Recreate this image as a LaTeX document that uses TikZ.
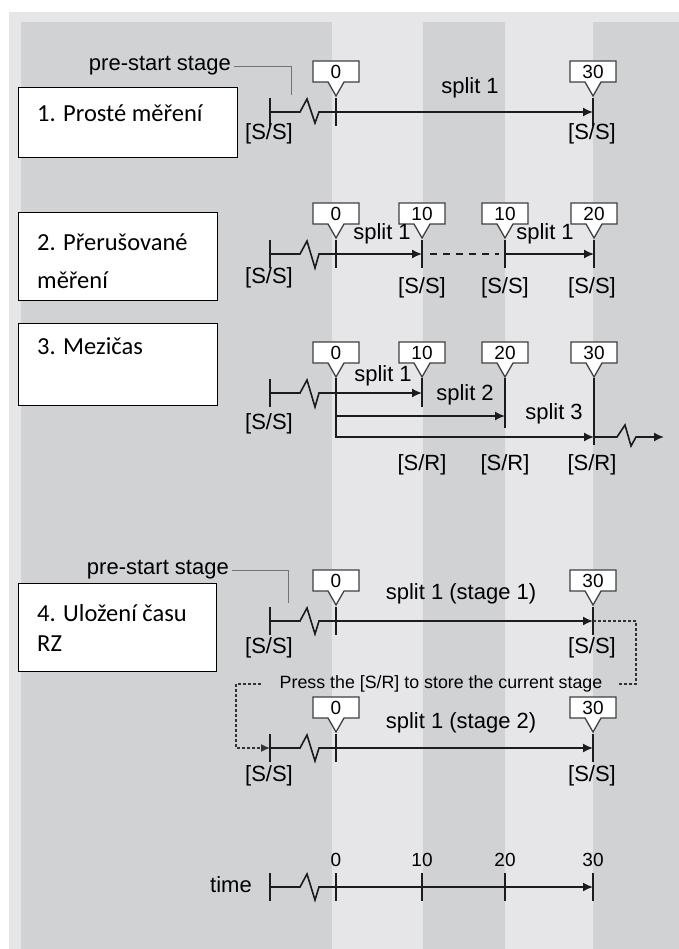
\documentclass[tikz,border=0pt]{standalone}
\usepackage{fontspec}
\setmainfont{Liberation Sans}
\newfontfamily\boxfont{Carlito}
\usetikzlibrary{arrows.meta,positioning}

\definecolor{bandlight}{RGB}{230,230,232}
\definecolor{banddark}{RGB}{209,210,212}
\definecolor{ink}{RGB}{28,28,28}

\tikzset{
  axis/.style={ink,line width=1.6pt},
  arr/.style={axis,-{Latex[length=10pt,width=9pt]}},
  tick/.style={ink,line width=2.8pt},
  flag/.style={draw=black!75,fill=white,line width=1.3pt,line join=miter},
  flagnum/.style={font=\fontsize{19}{19}\selectfont,inner sep=0pt},
  lbl/.style={font=\fontsize{22}{22}\selectfont,inner sep=0pt},
  presslbl/.style={font=\fontsize{17.8}{17.8}\selectfont,inner sep=0pt},
  stagebox/.style={draw=black,line width=1.4pt,fill=white,inner sep=0pt},
  boxtext/.style={font=\boxfont\fontsize{24.5}{24.5}\selectfont,anchor=west,inner sep=0pt},
  lead/.style={black!55,line width=0.8pt},
  store/.style={black!80,line width=1.3pt,dash pattern=on 3pt off 2pt}
}

% flag above a tick: name, x, line y, text
\newcommand{\flagat}[4]{%
  \draw[flag] (#2-23,#3-51) -- (#2+23,#3-51) -- (#2+23,#3-30) -- (#2+8,#3-30)
    -- (#2,#3-16) -- (#2-8,#3-30) -- (#2-23,#3-30) -- cycle;
  \node[flagnum] (#1) at (#2,#3-40.5) {#4};}

\begin{document}
\begin{tikzpicture}[x=1pt,y=-1pt]
    \useasboundingbox (0,0) rectangle (679,949);
    \fill[white] (0,0) rectangle (679,949);
    \fill[bandlight] (9,12) rectangle (679,949);
    \foreach \xa/\xb in {21/332, 423/505, 593/679} {
        \fill[banddark] (\xa,22) rectangle (\xb,949);
    }

    % 1. simple
    \node[stagebox,anchor=north west,minimum width=219pt,minimum height=70pt] (box1) at (18,87) {};
    \node[boxtext] (box1t) at (37,113) {1. Prosté měření};
    \coordinate (s1) at (270,112);
    \coordinate (z1) at (336,112);
    \coordinate (e1) at (593,112);
    \foreach \x in {270,336,593} {
        \draw[tick] (\x,98) -- (\x,126);
    }
    \draw[axis] (s1) -- (300,112) -- (307,99) -- (315,123) -- (319,112) -- (z1);
    \draw[arr] (z1) -- (e1);
    \flagat{f1a}{336}{112}{0}
    \flagat{f1b}{593}{112}{30}
    \node[lbl] (sp1) at (470,88) {split 1};
    \node[lbl] (ss1a) at (269,134) {[S/S]};
    \node[lbl] (ss1b) at (592,134) {[S/S]};
    \node[lbl,anchor=east] (pre1) at (231,66) {pre-start stage};
    \coordinate (pre1p) at (291,95);
    \draw[lead,shorten <=3pt] (pre1.east) -| (pre1p);

    % 2. interrupted
    \node[stagebox,anchor=north west,minimum width=199pt,minimum height=88pt] (box2) at (18,212) {};
    \node[boxtext] (box2t) at (37,242) {2. Přerušované};
    \node[boxtext] (box2u) at (37,280) {měření};
    \coordinate (s2) at (270,254);
    \coordinate (z2) at (336,254);
    \coordinate (a2) at (422,254);
    \coordinate (b2) at (505,254);
    \coordinate (c2) at (594,254);
    \foreach \x in {270,336,422,505,594} {
        \draw[tick] (\x,240) -- (\x,268);
    }
    \draw[axis] (s2) -- (300,254) -- (307,241) -- (315,268) -- (319,254) -- (z2);
    \draw[arr] (z2) -- (a2);
    \draw[axis,line width=1.2pt,dash pattern=on 7pt off 6pt,shorten <=8pt,shorten >=6pt] (a2) -- (b2);
    \draw[arr] (b2) -- (c2);
    \flagat{f2a}{336}{254}{0}
    \flagat{f2b}{422}{254}{10}
    \flagat{f2c}{505}{254}{10}
    \flagat{f2d}{594}{254}{20}
    \node[lbl] (sp2a) at (382,234) {split 1};
    \node[lbl] (sp2b) at (545,234) {split 1};
    \node[lbl] (ss2a) at (269,278) {[S/S]};
    \node[lbl] (ss2b) at (422,288) {[S/S]};
    \node[lbl] (ss2c) at (505,288) {[S/S]};
    \node[lbl] (ss2d) at (592,288) {[S/S]};

    % 3. splits
    \node[stagebox,anchor=north west,minimum width=199pt,minimum height=82pt] (box3) at (18,323) {};
    \node[boxtext] (box3t) at (37,346) {3. Mezičas};
    \coordinate (s3) at (270,393);
    \coordinate (z3) at (336,393);
    \coordinate (a3) at (422,393);
    \coordinate (z3b) at (336,416);
    \coordinate (b3) at (505,416);
    \coordinate (z3c) at (336,437);
    \coordinate (c3) at (594,437);
    \coordinate (f3) at (664,437);
    \draw[tick] (270,379) -- (270,407);
    \draw[tick] (336,378) -- (336,438);
    \draw[tick] (422,378) -- (422,407);
    \draw[tick] (505,378) -- (505,428);
    \draw[tick] (594,378) -- (594,445);
    \draw[axis] (s3) -- (300,393) -- (307,380) -- (315,407) -- (319,393) -- (z3);
    \draw[arr] (z3) -- (a3);
    \draw[arr] (z3b) -- (b3);
    \draw[arr] (z3c) -- (c3);
    \draw[arr] (c3) -- (617,437) -- (625,425) -- (631,446) -- (636,437) -- (f3);
    \flagat{f3a}{336}{393}{0}
    \flagat{f3b}{422}{393}{10}
    \flagat{f3c}{505}{393}{20}
    \flagat{f3d}{594}{393}{30}
    \node[lbl] (sp3a) at (383,376) {split 1};
    \node[lbl] (sp3b) at (465,395) {split 2};
    \node[lbl] (sp3c) at (554,414) {split 3};
    \node[lbl] (ss3a) at (269,424) {[S/S]};
    \node[lbl] (sr3a) at (422,465) {[S/R]};
    \node[lbl] (sr3b) at (505,465) {[S/R]};
    \node[lbl] (sr3c) at (592,465) {[S/R]};

    % 4. stored stage
    \node[stagebox,anchor=north west,minimum width=198pt,minimum height=88pt] (box4) at (18,583) {};
    \node[boxtext] (box4t) at (37,613) {4. Uložení času};
    \node[boxtext] (box4u) at (37,644) {RZ};
    \node[lbl,anchor=east] (pre4) at (229,570) {pre-start stage};
    \coordinate (pre4p) at (288,603);
    \draw[lead,shorten <=3pt] (pre4.east) -| (pre4p);
    \coordinate (s4) at (270,621);
    \coordinate (z4) at (336,621);
    \coordinate (e4) at (593,621);
    \foreach \x in {270,336,593} {
        \draw[tick] (\x,607) -- (\x,635);
    }
    \draw[axis] (s4) -- (300,621) -- (307,608) -- (315,634) -- (319,621) -- (z4);
    \draw[arr] (z4) -- (e4);
    \flagat{f4a}{336}{621}{0}
    \flagat{f4b}{593}{621}{30}
    \node[lbl] (sp4) at (461,594) {split 1 (stage 1)};
    \node[lbl] (ss4a) at (269,648) {[S/S]};
    \node[lbl] (ss4b) at (592,648) {[S/S]};

    \node[presslbl] (press) at (441,684) {Press the [S/R] to store the current stage};
    \coordinate (st1) at (636,621);
    \coordinate (st2) at (236,748);
    \coordinate (s5) at (270,748);
    \coordinate (z5) at (336,748);
    \coordinate (e5) at (593,748);
    \draw[store,shorten >=16pt] (e4) -- (st1) |- (press.east);
    \draw[store,-{Latex[length=9pt,width=8pt]},shorten <=19pt] (press.west) -| (st2) -- (s5);

    \foreach \x in {270,336,593} {
        \draw[tick] (\x,734) -- (\x,762);
    }
    \draw[axis] (s5) -- (300,748) -- (307,735) -- (315,761) -- (319,748) -- (z5);
    \draw[arr] (z5) -- (e5);
    \flagat{f5a}{336}{748}{0}
    \flagat{f5b}{593}{748}{30}
    \node[lbl] (sp5) at (461,723) {split 1 (stage 2)};
    \node[lbl] (ss5a) at (269,776) {[S/S]};
    \node[lbl] (ss5b) at (592,776) {[S/S]};

    % time axis
    \node[lbl,anchor=east] (timelbl) at (252,885) {time};
    \coordinate (s6) at (270,887);
    \coordinate (z6) at (336,887);
    \coordinate (e6) at (593,887);
    \foreach \x in {270,336,422,505,593} {
        \draw[tick] (\x,873) -- (\x,901);
    }
    \draw[axis] (s6) -- (300,887) -- (307,874) -- (315,900) -- (319,887) -- (z6);
    \draw[arr] (z6) -- (e6);
    \foreach \x/\t in {336/0, 422/10, 505/20, 593/30} {
        \node[flagnum] (t\t) at (\x,860) {\t};
    }
\end{tikzpicture}
\end{document}
